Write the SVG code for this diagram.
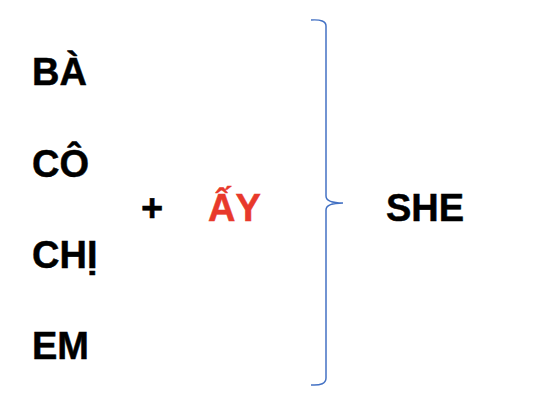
<svg xmlns="http://www.w3.org/2000/svg" width="536" height="400" viewBox="0 0 536 400">
<style>
.t{font-family:"Liberation Sans",Arial,sans-serif;font-weight:bold;font-size:38px;fill:#000;stroke:#000;stroke-width:0.5}
.r{fill:#E8392B;stroke:#E8392B}
.brace{fill:none;stroke:#4472C4;stroke-width:1.5}
</style>
<rect width="536" height="400" fill="#fff"/>
<g id="ba"><text class="t" x="32" y="85">BÀ</text></g>
<g id="co"><text class="t" x="32" y="177">CÔ</text></g>
<g id="chi"><text class="t" x="32" y="268">CHỊ</text></g>
<g id="em"><text class="t" x="32" y="359">EM</text></g>
<g id="plus"><text class="t" x="141" y="221">+</text></g>
<g id="ay"><text class="t r" x="208" y="221">ẤY</text></g>
<g id="she"><text class="t" x="386" y="221">SHE</text></g>
<g id="connectors">
<path class="brace" d="M311,20 Q326,19 326,26 L326,196 Q326,203 343,203 Q326,203 326,210 L326,378 Q326,386 311,385"/>
</g>
</svg>
